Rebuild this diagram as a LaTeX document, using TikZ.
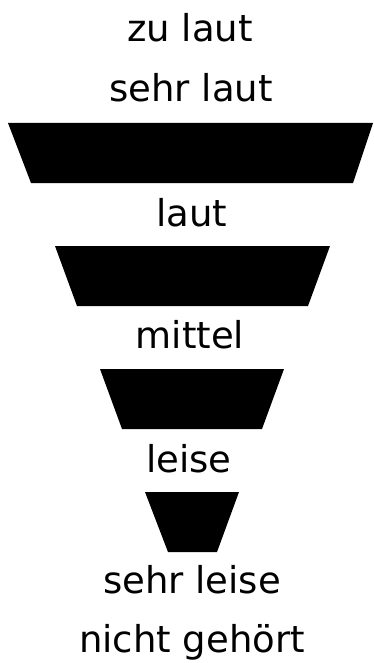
\documentclass[tikz,border=0pt]{standalone}
\usepackage{fontspec}
\setmainfont{DejaVu Sans}
\usetikzlibrary{positioning}

\tikzset{
    stufe/.style={anchor=base, inner sep=0pt, font=\fontsize{37}{44}\selectfont},
    balken/.style={fill=black, draw=none}
}

\begin{document}
\begin{tikzpicture}[x=1pt, y=-1pt]
    \useasboundingbox (0,0) rectangle (374,663);

    \node[stufe] (zulaut) at (190,42) {zu laut};
    \node[stufe] (sehrlaut) at (191,102) {sehr laut};

    \fill[balken] (8,123) -- (373,123) -- (353,183) -- (31,183) -- cycle;
    \node[stufe] (laut) at (192,226) {laut};

    \fill[balken] (55,246) -- (330,246) -- (308,306) -- (77,306) -- cycle;
    \node[stufe] (mittel) at (190,348) {mittel};

    \fill[balken] (100,369) -- (284,369) -- (262,429) -- (122,429) -- cycle;
    \node[stufe] (leise) at (189,472) {leise};

    \fill[balken] (145,492) -- (239,492) -- (217,552) -- (168,552) -- cycle;
    \node[stufe] (sehrleise) at (192,593) {sehr leise};
    \node[stufe] (nichtgehoert) at (192,652) {nicht gehört};
\end{tikzpicture}
\end{document}
